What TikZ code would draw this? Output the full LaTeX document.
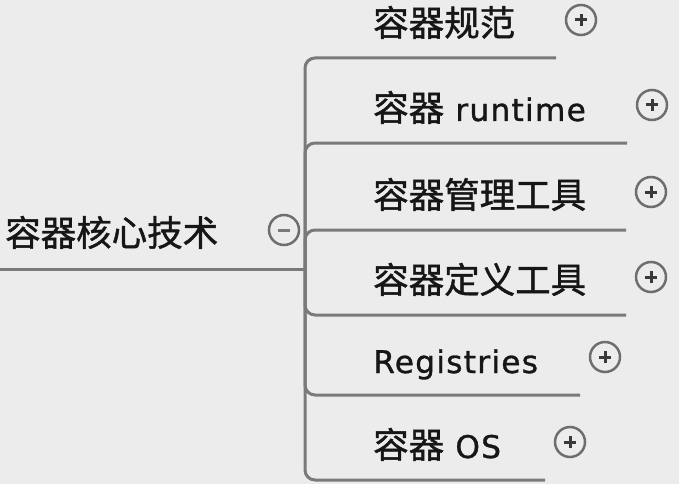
\documentclass[tikz,border=0pt]{standalone}
\usepackage{fontspec}
\setmainfont[Scale=0.88,LetterSpace=4,FakeBold=1]{DejaVu Sans}
\newfontfamily\cjk[FakeBold=1.2]{Noto Sans CJK SC}
\usepackage{tikz}

\definecolor{paper}{HTML}{ECECEC}
\definecolor{wire}{HTML}{7A7A7A}
\definecolor{ink}{HTML}{161616}
\tikzset{
  topic/.style={anchor=base west, inner sep=0pt, text=ink, font=\fontsize{35.5}{42}\selectfont},
  branch/.style={draw=wire, line width=3pt, rounded corners=10pt},
  fold/.style={circle, draw=wire!90!black, line width=2.5pt, minimum size=30pt, inner sep=0pt, fill=paper},
  sign/.style={draw=ink!85, line width=3pt},
  expand/.style={fold, path picture={
    \draw[sign] ([xshift=-6pt]path picture bounding box.center) -- ([xshift=6pt]path picture bounding box.center)
                ([yshift=-6pt]path picture bounding box.center) -- ([yshift=6pt]path picture bounding box.center);}},
  collapse/.style={fold, path picture={
    \draw[sign, draw=wire] ([xshift=-6pt]path picture bounding box.center) -- ([xshift=6pt]path picture bounding box.center);}}
}

\begin{document}
\begin{tikzpicture}[x=1pt, y=-1pt]
    \useasboundingbox (0,0) rectangle (679,484);
    \fill[paper] (0,0) rectangle (679,484);
    % central topic
    \node[topic] (core) at (5,246) {\cjk 容器核心技术};
    \node[collapse] (corefold) at (284,230) {};
    \coordinate (left) at (-2,269);
    \coordinate (hub) at (305,269);
    \draw[branch] (left) -- (hub);
    % subtopics
    \foreach \name/\ly/\px/\txt in {spec/58/581/{\cjk 容器规范},
        runtime/143/652/{{\cjk 容器} runtime},
        manage/230/651/{\cjk 容器管理工具},
        define/315/651/{\cjk 容器定义工具},
        registry/395/605/{Registries},
        os/480/570/{{\cjk 容器} OS}}{
      \node[topic] (\name) at (373,\ly-22) {\txt};
      \node[expand] (\name fold) at (\px,\ly-38) {};
      \coordinate (\name end) at (\px-25,\ly);
      \draw[branch] (hub) |- (\name end);
      }
  \end{tikzpicture}
\end{document}
